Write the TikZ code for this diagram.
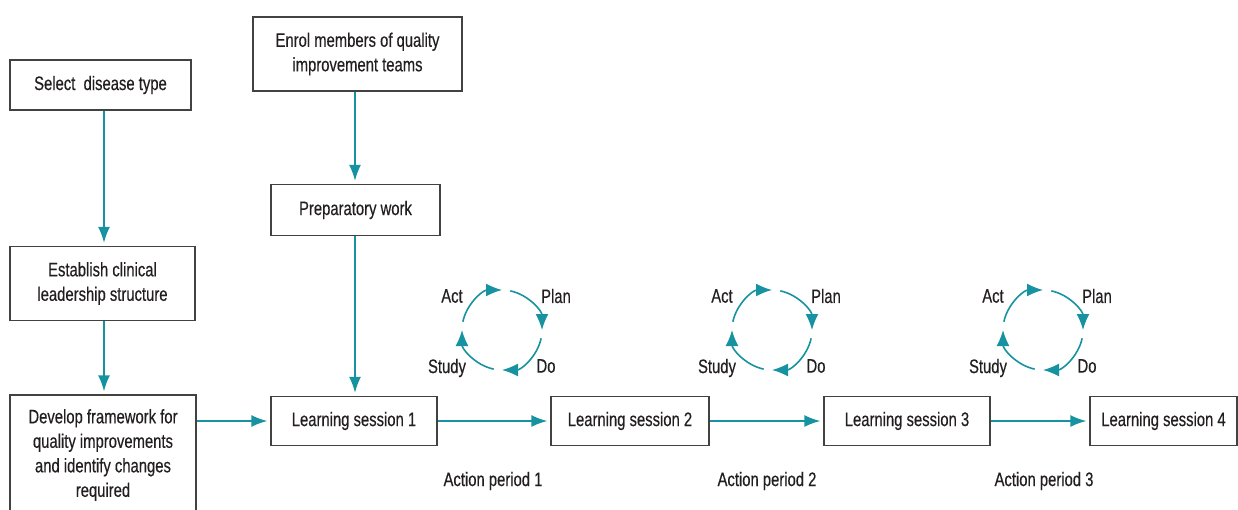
\documentclass[tikz,border=0pt]{standalone}
\usepackage{fontspec}
\setmainfont[FakeStretch=0.76,FakeBold=0.4]{Liberation Sans}
\usetikzlibrary{arrows.meta,calc}
\definecolor{teal1}{RGB}{22,146,160}
\definecolor{ink}{RGB}{35,31,32}
\tikzset{
  box/.style={draw=ink!85, line width=1.3pt, inner sep=0pt, align=center, text=ink,
    font=\fontsize{19.5}{24.5}\selectfont},
  arr/.style={draw=teal1, line width=1.6pt, -{Latex[length=16pt,width=12pt]}, shorten >=3pt},
  carr/.style={draw=teal1, line width=1.6pt, -{Latex[length=16pt,width=13pt]}},
  lbl/.style={text=ink, inner sep=0pt, font=\fontsize{19.5}{24.5}\selectfont}
}
\begin{document}
\begin{tikzpicture}[x=1pt,y=-1pt]
\useasboundingbox (0,0) rectangle (1238,509);
% boxes
\node[box, minimum width=181pt, minimum height=50pt] (sel) at (100.5,85) {Select\ \ disease type};
\node[box, minimum width=209pt, minimum height=74pt] (enrol) at (357.5,54) {Enrol members of quality\\improvement teams};
\node[box, minimum width=169pt, minimum height=51pt] (prep) at (355.5,210) {Preparatory work};
\node[box, minimum width=185pt, minimum height=74pt] (est) at (102.5,283.5) {Establish clinical\\leadership structure};
\node[box, minimum width=186pt, minimum height=120pt] (dev) at (103,455) {Develop framework for\\quality improvements\\and identify changes\\required};
\node[box, minimum width=166pt, minimum height=49pt] (ls1) at (354,421) {Learning session 1};
\node[box, minimum width=158pt, minimum height=49pt] (ls2) at (630,421) {Learning session 2};
\node[box, minimum width=166pt, minimum height=49pt] (ls3) at (907,421) {Learning session 3};
\node[box, minimum width=147pt, minimum height=49pt] (ls4) at (1163.5,421) {Learning session 4};
% connector x positions
\coordinate (xa) at (104,0);
\coordinate (xb) at (355,0);
\draw[arr] (sel.south -| xa) -- (est.north -| xa);
\draw[arr] (est.south -| xa) -- (dev.north -| xa);
\draw[arr] (enrol.south -| xb) -- (prep.north -| xb);
\draw[arr] (prep.south -| xb) -- (ls1.north -| xb);
\draw[arr] (dev.east |- ls1.west) -- (ls1.west);
\draw[arr] (ls1) -- (ls2);
\draw[arr] (ls2) -- (ls3);
\draw[arr] (ls3) -- (ls4);
% PDSA cycles
\foreach \cx/\i in {502/1,772/2,1043/3}{
  \coordinate (c\i) at (\cx,330);
  \draw[carr] ($(c\i)+(168:40pt)$) arc[start angle=168, end angle=90, radius=40pt];
  \draw[carr] ($(c\i)+(78:40pt)$) arc[start angle=78, end angle=0, radius=40pt];
  \draw[carr] ($(c\i)+(-12:40pt)$) arc[start angle=-12, end angle=-90, radius=40pt];
  \draw[carr] ($(c\i)+(-102:40pt)$) arc[start angle=-102, end angle=-180, radius=40pt];
  \node[lbl] (act\i) at ($(c\i)+(-50,-34)$) {Act};
  \node[lbl] (plan\i) at ($(c\i)+(54,-34)$) {Plan};
  \node[lbl] (study\i) at ($(c\i)+(-55,38)$) {Study};
  \node[lbl] (do\i) at ($(c\i)+(44,36)$) {Do};
}
\node[lbl] (ap1) at (493,481) {Action period 1};
\node[lbl] (ap2) at (767,481) {Action period 2};
\node[lbl] (ap3) at (1044,481) {Action period 3};
\end{tikzpicture}
\end{document}
